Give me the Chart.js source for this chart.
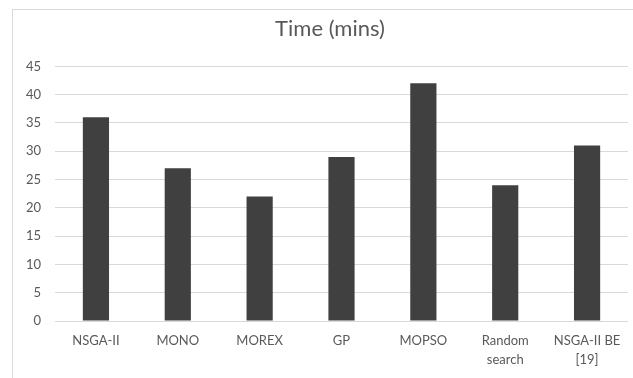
<!DOCTYPE html>
<html>
<head>
<meta charset="utf-8">
<script src="https://cdn.jsdelivr.net/npm/chart.js@4/dist/chart.umd.min.js"></script>
<style>
  html, body { margin: 0; padding: 0; background: #fff; overflow: hidden; }
  #wrap { position: relative; width: 633px; height: 378px; }
  #frame { position: absolute; left: 12px; top: 9px; width: 700px; height: 400px;
           border: 1px solid #d9d9d9; box-sizing: border-box; pointer-events: none; }
  canvas { position: absolute; left: 0; top: 0; }
</style>
</head>
<body>
<div id="wrap">
  <div id="frame"></div>
  <canvas id="c" width="633" height="378"></canvas>
</div>
<script>
// Algorithms compared and their run times
const categories = ['NSGA-II', 'MONO', 'MOREX', 'GP', 'MOPSO', ['Random', 'search'], ['NSGA-II BE', '[19]']];
const timeMins = [36, 27, 22, 29, 42, 24, 31];
const yTicks = [0, 5, 10, 15, 20, 25, 30, 35, 40, 45];

const textColor = '#595959';
const font = 'Lato, Calibri, "Open Sans", sans-serif';

new Chart(document.getElementById('c'), {
  type: 'bar',
  data: {
    labels: categories,
    datasets: [{
      label: 'Time (mins)',
      data: timeMins,
      backgroundColor: '#404040',
      borderWidth: 0,
      categoryPercentage: 1,
      barPercentage: 0.32
    }]
  },
  options: {
    responsive: false,
    animation: false,
    layout: { padding: { left: 32, right: 5, top: 16, bottom: 0 } },
    plugins: {
      legend: { display: false },
      tooltip: { enabled: false },
      title: {
        display: true,
        text: 'Time (mins)',
        color: textColor,
        font: { family: font, size: 22, weight: 'normal' },
        padding: { top: 0, bottom: 24 }
      }
    },
    scales: {
      y: {
        min: 0,
        max: 45,
        afterFit: (s) => { s.width = 23; },
        afterBuildTicks: (s) => { s.ticks = yTicks.map(v => ({ value: v })); },
        border: { display: false },
        grid: { color: '#d9d9d9', lineWidth: 1, drawTicks: false },
        // labels sit right-aligned about 15px left of the plot
        ticks: { color: textColor, mirror: true, crossAlign: 'far', padding: -29,
                 font: { family: font, size: 13 } }
      },
      x: {
        afterFit: (s) => { s.height = 57; },
        border: { display: false },
        grid: { display: false, drawTicks: false },
        ticks: { color: textColor, padding: 10, maxRotation: 0, autoSkip: false,
                 font: { family: font, size: 13, lineHeight: 1.5 } }
      }
    }
  }
});
</script>
</body>
</html>
